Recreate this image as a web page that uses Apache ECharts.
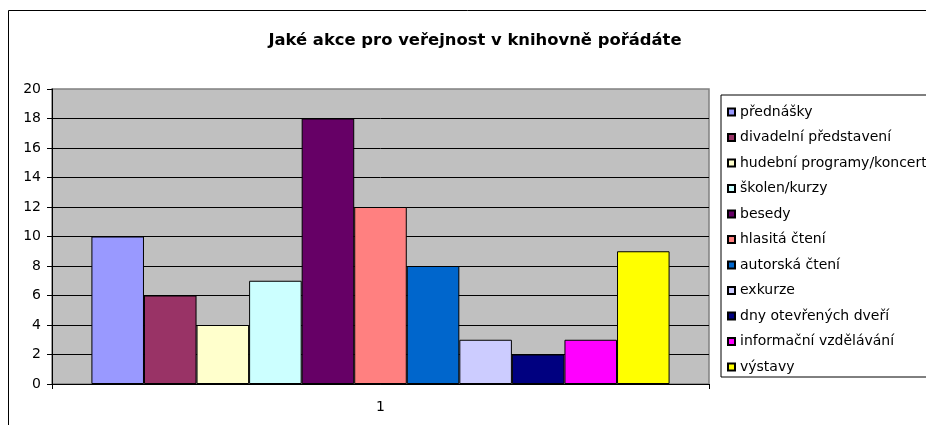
<!DOCTYPE html>
<html>
<head>
<meta charset="utf-8">
<script src="https://cdn.jsdelivr.net/npm/echarts@6/dist/echarts.min.js"></script>
<style>
html,body{margin:0;padding:0;background:#fff;}
#c{width:926px;height:425px;}
</style>
</head>
<body>
<div id="c"></div>
<script>
const titleText = 'Jaké akce pro veřejnost v knihovně pořádáte';
const categories = ['1'];
const seriesNames = ['přednášky','divadelní představení','hudební programy/koncerty','školen/kurzy','besedy','hlasitá čtení','autorská čtení','exkurze','dny otevřených dveří','informační vzdělávání','výstavy'];
const seriesValues = [10, 6, 4, 7, 18, 12, 8, 3, 2, 3, 9];
const seriesColors = ['#9999FF','#993366','#FFFFCC','#CCFFFF','#660066','#FF8080','#0066CC','#CCCCFF','#000080','#FF00FF','#FFFF00'];
const yTicks = [0,2,4,6,8,10,12,14,16,18,20];

const font = '"DejaVu Sans", "Liberation Sans", Arial, sans-serif';
const chart = echarts.init(document.getElementById('c'), null, {renderer:'canvas'});
const series = seriesNames.map((n,i)=>({
  name:n, type:'bar', data:[seriesValues[i]],
  barGap:'0%', barCategoryGap:'12%',
  itemStyle:{color:seriesColors[i], borderColor:'#000', borderWidth:1},
  emphasis:{disabled:true}
}));
chart.setOption({
  animation:false,
  backgroundColor:'#fff',
  title:{text:titleText, left:470, top:28, textAlign:'center',
    textStyle:{fontFamily:font, fontSize:16.4, fontWeight:'bold', color:'#000'}},
  graphic:[{type:'rect', shape:{x:8.5,y:10.5,width:1000,height:1000}, style:{fill:'none',stroke:'#000',lineWidth:1}, z:-1, silent:true}],
  grid:{left:52, top:89, right:217, bottom:41, show:true, backgroundColor:'#C0C0C0', borderColor:'#808080', borderWidth:1.5},
  legend:{orient:'vertical', left:721, top:95, padding:[9,10,2,6],
    itemWidth:7, itemHeight:7, itemGap:9.5, icon:'rect',
    borderColor:'#000', borderWidth:1, backgroundColor:'#fff',
    textStyle:{fontFamily:font, fontSize:14, color:'#000', lineHeight:16},
    data:seriesNames},
  xAxis:{type:'category', data:categories,
    axisLine:{lineStyle:{color:'#000',width:1}},
    axisTick:{show:true, length:5, lineStyle:{color:'#000'}},
    axisLabel:{fontFamily:font, fontSize:14, color:'#000', margin:16},
    splitLine:{show:false}},
  yAxis:{type:'value', min:yTicks[0], max:yTicks[yTicks.length-1], interval:yTicks[1]-yTicks[0],
    axisLine:{show:true, lineStyle:{color:'#000',width:1}},
    axisTick:{show:true, length:5, lineStyle:{color:'#000'}},
    axisLabel:{fontFamily:font, fontSize:14, color:'#000', margin:11},
    splitLine:{show:true, showMaxLine:false, lineStyle:{color:'#000',width:1}}},
  series:series
});
</script>
</body>
</html>
